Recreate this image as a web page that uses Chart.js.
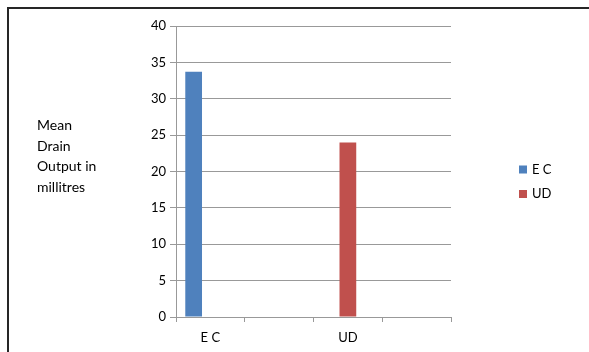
<!DOCTYPE html>
<html><head><meta charset="utf-8">
<script src="https://cdn.jsdelivr.net/npm/chart.js@4"></script>
<style>
html,body{margin:0;padding:0;background:#fff;overflow:hidden;}
#wrap{position:relative;width:589px;height:352px;}
#frame{position:absolute;left:7px;top:7px;width:700px;height:500px;border-top:2px solid #262626;border-left:2px solid #262626;pointer-events:none;}
canvas{position:absolute;left:0;top:0;}
</style></head><body>
<div id="wrap"><canvas id="c" width="589" height="352"></canvas><div id="frame"></div></div>
<script>
const categories = ['E C', '', 'UD', ''];
const seriesNames = ['E C', 'UD', ''];
const seriesColors = ['#4f81bd', '#c0504d', '#9bbb59'];
const ecValues = [33.7, null, null, null];
const udValues = [null, null, 24.0, null];
const emptyValues = [null, null, null, null];
const yMin = 0, yMax = 40, yStep = 5;
const yTitleLines = ['Mean', 'Drain', 'Output in', 'millitres'];

const FONT = 'Lato, "Liberation Sans", sans-serif';

const sideText = {
  id: 'sideText',
  afterDraw(chart) {
    const ctx = chart.ctx;
    ctx.save();
    ctx.fillStyle = '#000';
    ctx.font = '14px ' + FONT;
    ctx.textAlign = 'left';
    ctx.textBaseline = 'alphabetic';
    yTitleLines.forEach((t, i) => ctx.fillText(t, 37, 130 + i * 20.5));
    // legend
    ctx.font = '13px ' + FONT;
    let row = 0;
    chart.data.datasets.forEach(ds => {
      if (!ds.label) return;
      const cy = 169.5 + row * 24.5;
      ctx.fillStyle = ds.backgroundColor;
      ctx.fillRect(519, cy - 4, 8, 8);
      ctx.fillStyle = '#000';
      ctx.textBaseline = 'middle';
      ctx.fillText(ds.label, 532, cy);
      row++;
    });
    ctx.restore();
  }
};

new Chart(document.getElementById('c'), {
  type: 'bar',
  data: {
    labels: categories,
    datasets: [
      { label: seriesNames[0], data: ecValues, backgroundColor: seriesColors[0] },
      { label: seriesNames[1], data: udValues, backgroundColor: seriesColors[1] },
      { label: seriesNames[2], data: emptyValues, backgroundColor: seriesColors[2] }
    ]
  },
  options: {
    responsive: false,
    animation: false,
    devicePixelRatio: 1,
    categoryPercentage: 0.73,
    barPercentage: 1.0,
    layout: { padding: { left: 0, right: 138, top: 26, bottom: 0 } },
    plugins: { legend: { display: false }, tooltip: { enabled: false } },
    scales: {
      y: {
        min: yMin, max: yMax,
        ticks: { stepSize: yStep, color: '#000', font: { family: FONT, size: 13 }, padding: 4 },
        grid: { color: '#999', tickLength: 6 },
        border: { color: '#999' },
        afterFit(s) { s.width = 176; }
      },
      x: {
        offset: true,
        ticks: { color: '#000', font: { family: FONT, size: 13 }, padding: 8, autoSkip: false, maxRotation: 0 },
        grid: { offset: true, drawOnChartArea: false, color: '#999', tickLength: 5 },
        border: { color: '#999' },
        afterFit(s) { s.height = 35; }
      }
    }
  },
  plugins: [sideText]
});
</script>
</body></html>
